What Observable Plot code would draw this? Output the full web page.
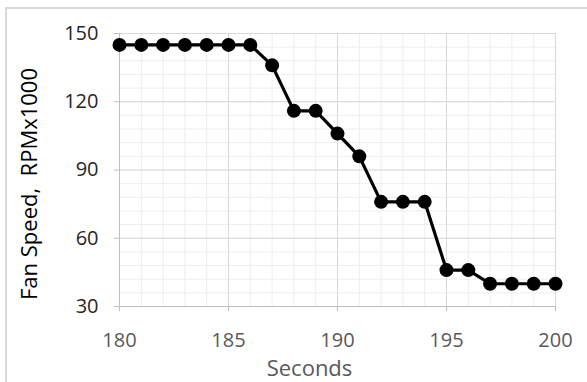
<!DOCTYPE html>
<html>
<head>
<meta charset="utf-8">
<script src="https://cdn.jsdelivr.net/npm/d3@7"></script>
<script src="https://cdn.jsdelivr.net/npm/@observablehq/plot@0.6"></script>
<style>
  html, body { margin: 0; padding: 0; background: #fff; overflow: hidden; }
  #wrap { position: relative; width: 587px; height: 382px; }
  #frame { position: absolute; left: 5px; top: 7px; width: 620px; height: 420px;
           border: 2px solid #d9d9d9; box-sizing: border-box; }
  #chart { position: absolute; left: 0; top: 0; }
</style>
</head>
<body>
<div id="wrap"><div id="frame"></div><div id="chart"></div></div>
<script>
// Fan speed over time (thousands of RPM)
const seconds = [180, 181, 182, 183, 184, 185, 186, 187, 188, 189, 190,
                 191, 192, 193, 194, 195, 196, 197, 198, 199, 200];
const fanSpeed = [145, 145, 145, 145, 145, 145, 145, 136, 116, 116, 106,
                  96, 76, 76, 76, 46, 46, 40, 40, 40, 40];

// Axis ticks and gridlines
const xTicks = [180, 185, 190, 195, 200];
const yTicks = [30, 60, 90, 120, 150];
const xMinor = d3.range(180, 201, 1);
const yMinor = d3.range(30, 151, 6);

const data = seconds.map((s, i) => ({s, v: fanSpeed[i]}));

const chart = Plot.plot({
  width: 587,
  height: 382,
  marginLeft: 119,
  marginRight: 32,
  marginTop: 33,
  marginBottom: 76,
  style: {fontFamily: "'Open Sans', Lato, sans-serif", fontSize: "20px", background: "transparent"},
  x: {domain: [180, 200]},
  y: {domain: [30, 150]},
  marks: [
    Plot.ruleX(xMinor, {stroke: "#ededed", strokeWidth: 1}),
    Plot.ruleY(yMinor, {stroke: "#ededed", strokeWidth: 1}),
    Plot.ruleX(xTicks, {stroke: "#d9d9d9", strokeWidth: 1}),
    Plot.ruleY(yTicks, {stroke: "#d9d9d9", strokeWidth: 1}),
    Plot.ruleX([180], {stroke: "#bfbfbf", strokeWidth: 1}),
    Plot.ruleY([30], {stroke: "#bfbfbf", strokeWidth: 1}),
    Plot.axisX({ticks: xTicks, tickSize: 5, tickPadding: 21, stroke: "#bfbfbf",
                fill: "#595959", fontSize: 20, label: null}),
    Plot.axisY({ticks: yTicks, tickSize: 5, tickPadding: 16, stroke: "#bfbfbf",
                fill: "#262626", fontSize: 20, label: null}),
    Plot.line(data, {x: "s", y: "v", stroke: "#000", strokeWidth: 3.2}),
    Plot.dot(data, {x: "s", y: "v", r: 7, fill: "#000", stroke: "none"}),
    Plot.text(["Seconds"], {text: d => d, frameAnchor: "bottom", dx: -28, dy: 69,
                            fill: "#595959", fontSize: 22, textAnchor: "middle", lineAnchor: "bottom"}),
    Plot.text(["Fan Speed,\u00a0 RPMx1000"], {text: d => d, frameAnchor: "left", rotate: -90,
                            dx: -90, dy: 14, fill: "#000", fontSize: 22,
                            textAnchor: "middle", lineAnchor: "middle"})
  ]
});
document.getElementById("chart").appendChild(chart);
</script>
</body>
</html>
